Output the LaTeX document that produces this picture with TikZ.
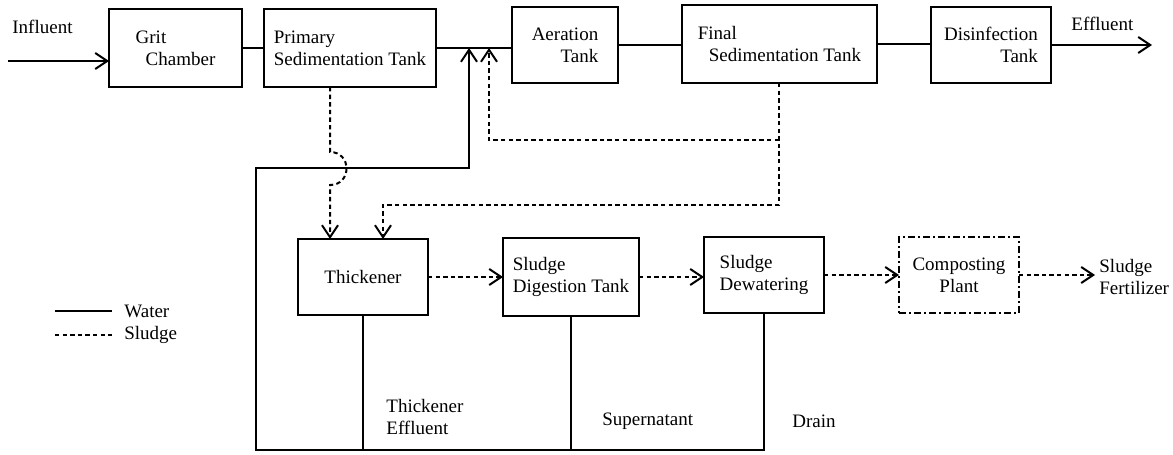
\documentclass[tikz,border=0pt]{standalone}
\usepackage{fontspec}
\setmainfont{Liberation Serif}
\usetikzlibrary{arrows.meta}
\begin{document}
\begin{tikzpicture}[x=0.5pt,y=-0.5pt,
  box/.style={draw,line width=1pt,inner sep=0pt,outer sep=0pt,font=\fontsize{9.5}{11}\selectfont},
  water/.style={line width=1pt},
  sludge/.style={line width=1pt,dash pattern=on 2.2pt off 1.6pt},
  tip/.style={-{Straight Barb[length=6pt,width=8pt,line width=1pt]}},
  lbl/.style={inner sep=0pt,font=\fontsize{9.5}{11}\selectfont,anchor=west,align=left}]
\useasboundingbox (0,0) rectangle (1173,455);
% boxes
\node[box,minimum width=66.5pt,minimum height=39pt,align=left] (grit) at (175.5,48) {Grit\\\hspace*{5pt}Chamber};
\node[box,minimum width=86pt,minimum height=39pt,align=left] (prim) at (350,48) {Primary\\Sedimentation Tank};
\node[box,minimum width=53pt,minimum height=38pt,align=right] (aer) at (565,45) {Aeration\\Tank};
\node[box,minimum width=97.5pt,minimum height=39pt,align=left] (fin) at (779.5,44) {Final\\\hspace*{5.5pt}Sedimentation Tank};
\node[box,minimum width=60pt,minimum height=38pt,align=right] (dis) at (991,45) {Disinfection\\Tank};
\node[box,minimum width=65pt,minimum height=38pt] (thk) at (363,277) {Thickener};
\node[box,minimum width=68pt,minimum height=39pt,align=left] (dig) at (571,277) {Sludge\\Digestion Tank};
\node[box,minimum width=60pt,minimum height=38pt,align=left] (dew) at (764,275) {Sludge\\Dewatering};
\node[box,minimum width=60pt,minimum height=38pt,align=center,dash pattern=on 3.5pt off 1.5pt on 1pt off 1.5pt] (comp) at (959,275) {Composting\\Plant};
% labels
\node[lbl] (influent) at (12,27) {Influent};
\node[lbl] (effluent) at (1071,24) {Effluent};
\node[lbl] (fert) at (1099,277) {Sludge\\Fertilizer};
\node[lbl] (thkeff) at (386,417) {Thickener\\Effluent};
\node[lbl] (super) at (602,421) {Supernatant};
\node[lbl] (drain) at (792,421) {Drain};
\node[lbl] (lw) at (124,311) {Water};
\node[lbl] (ls) at (124,335) {Sludge};
% legend
\coordinate (lw0) at (55,311);
\coordinate (ls0) at (55,335);
\draw[water] (lw0) -- ([xshift=-6pt]lw.west);
\draw[sludge] (ls0) -- ([xshift=-6pt]ls.west);
% main water line
\coordinate (in0) at (8,61);
\coordinate (out1) at (1152,45);
\draw[water,tip] (in0) -- (in0 -| grit.west);
\draw[water] (grit.east) -- (prim.west);
\draw[water] (prim.east) -- (aer.west |- prim.east);
\draw[water] (aer.east) -- (fin.west |- aer.east);
\draw[water] (fin.east) -- (dis.west |- fin.east);
\draw[water,tip] (dis.east) -- (out1);
% water return
\coordinate (bl) at (256,450);
\coordinate (ul) at (256,168);
\coordinate (ur) at (469,168);
\coordinate (j1) at (469,48);
\draw[water,tip] (dew.south) -- (dew.south |- bl) -- (bl) -- (ul) -- (ur) -- (j1);
\draw[water] (thk.south) -- (thk.south |- bl);
\draw[water] (dig.south) -- (dig.south |- bl);
% sludge from primary with hop
\coordinate (p1) at (330,152);
\coordinate (p2) at (330,185);
\draw[sludge,tip] (prim.south -| p1) -- (p1) .. controls (352,152) and (352,185) .. (p2) -- (p2 |- thk.north);
% sludge from final
\coordinate (f1) at (779,140);
\coordinate (f2) at (779,205);
\coordinate (t2) at (383,205);
\coordinate (r1) at (489,140);
\coordinate (j2) at (489,48);
\draw[sludge,tip] (fin.south -| f1) -- (f2) -- (t2) -- (t2 |- thk.north);
\draw[sludge,tip] (f1) -- (r1) -- (j2);
% sludge chain
\draw[sludge,tip] (thk.east) -- (dig.west |- thk.east);
\draw[sludge,tip] (dig.east) -- (dew.west |- dig.east);
\draw[sludge,tip] (dew.east) -- (comp.west);
\draw[sludge,tip] (comp.east) -- ([xshift=-2pt]fert.west |- comp.east);
\end{tikzpicture}
\end{document}
